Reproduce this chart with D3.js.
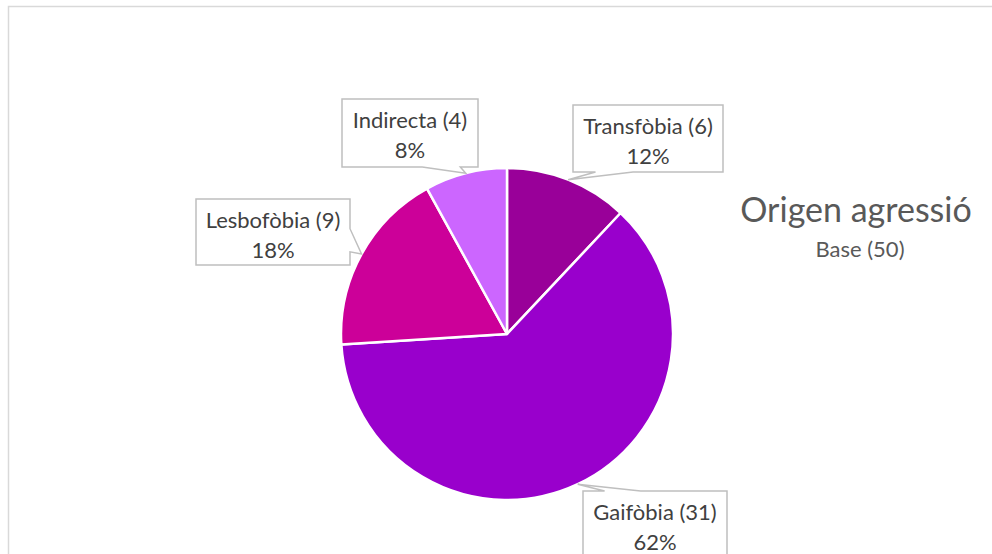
<!DOCTYPE html>
<html>
<head>
<meta charset="utf-8">
<script src="https://cdn.jsdelivr.net/npm/d3@7"></script>
<style>
  body { margin: 0; background: #fff; }
  svg { display: block; font-family: Lato, "Liberation Sans", sans-serif; }
</style>
</head>
<body>
<svg id="chart" width="992" height="554"></svg>
<script>
// data
var categories = ["Transfòbia", "Gaifòbia", "Lesbofòbia", "Indirecta"];
var counts = [6, 31, 9, 4];
var colors = ["#990099", "#9900CC", "#CC0099", "#CC66FF"];
var title = "Origen agressió";
var subtitle = "Base (50)";

var total = d3.sum(counts);
var cx = 507, cy = 334, r = 166;

var svg = d3.select("#chart");

// outer chart frame (runs off the right/bottom edge)
svg.append("rect")
    .attr("x", 8.5).attr("y", 6.5)
    .attr("width", 1100).attr("height", 700)
    .attr("fill", "none").attr("stroke", "#d9d9d9").attr("stroke-width", 1.5);

var pie = d3.pie().sort(null).value(function(d) { return d; });
var arcs = pie(counts);
var arc = d3.arc().innerRadius(0).outerRadius(r);
var edge = d3.arc().innerRadius(r).outerRadius(r); // centroid = point on rim

var g = svg.append("g").attr("transform", "translate(" + cx + "," + cy + ")");

g.selectAll("path.slice")
    .data(arcs)
  .enter().append("path")
    .attr("class", "slice")
    .attr("d", arc)
    .attr("fill", function(d, i) { return colors[i]; })
    .attr("stroke", "#fff")
    .attr("stroke-width", 2.5)
    .attr("stroke-linejoin", "round");

// callout boxes: where each box sits + which side the tail leaves from
var boxes = [
  { x: 573, y: 105, w: 150, h: 67, side: "bottom", a: 0.15, b: 0.40 },
  { x: 583, y: 491, w: 144, h: 67, side: "top",    a: 0.15, b: 0.40 },
  { x: 196, y: 199, w: 154, h: 66, side: "right",  a: 0.45, b: 0.80 },
  { x: 342, y: 99,  w: 136, h: 68, side: "bottom", a: 0.59, b: 0.87 }
];

function callout(bx, tip) {
  var x0 = bx.x, y0 = bx.y, x1 = bx.x + bx.w, y1 = bx.y + bx.h;
  var p = d3.path();
  p.moveTo(x0, y0);
  if (bx.side === "top") {
    p.lineTo(x0 + bx.w * bx.a, y0);
    p.lineTo(tip[0], tip[1]);
    p.lineTo(x0 + bx.w * bx.b, y0);
  }
  p.lineTo(x1, y0);
  if (bx.side === "right") {
    p.lineTo(x1, y0 + bx.h * bx.a);
    p.lineTo(tip[0], tip[1]);
    p.lineTo(x1, y0 + bx.h * bx.b);
  }
  p.lineTo(x1, y1);
  if (bx.side === "bottom") {
    p.lineTo(x0 + bx.w * bx.b, y1);
    p.lineTo(tip[0], tip[1]);
    p.lineTo(x0 + bx.w * bx.a, y1);
  }
  p.lineTo(x0, y1);
  p.closePath();
  return p.toString();
}

var labels = svg.selectAll("g.label")
    .data(arcs)
  .enter().append("g")
    .attr("class", "label");

labels.append("path")
    .attr("d", function(d, i) {
      var c = edge.centroid(d);
      return callout(boxes[i], [cx + c[0], cy + c[1]]);
    })
    .attr("fill", "#fff")
    .attr("stroke", "#bfbfbf")
    .attr("stroke-width", 1.5);

labels.append("text")
    .attr("x", function(d, i) { return boxes[i].x + boxes[i].w / 2; })
    .attr("y", function(d, i) { return boxes[i].y + 29; })
    .attr("text-anchor", "middle")
    .attr("font-size", 22)
    .attr("fill", "#404040")
    .text(function(d, i) { return categories[i] + " (" + counts[i] + ")"; });

labels.append("text")
    .attr("x", function(d, i) { return boxes[i].x + boxes[i].w / 2; })
    .attr("y", function(d, i) { return boxes[i].y + 59; })
    .attr("text-anchor", "middle")
    .attr("font-size", 22)
    .attr("fill", "#404040")
    .text(function(d) { return Math.round(d.value / total * 100) + "%"; });

svg.append("text")
    .attr("x", 856).attr("y", 222)
    .attr("text-anchor", "middle")
    .attr("font-size", 34)
    .attr("fill", "#595959")
    .text(title);

svg.append("text")
    .attr("x", 860).attr("y", 257)
    .attr("text-anchor", "middle")
    .attr("font-size", 22)
    .attr("fill", "#595959")
    .text(subtitle);
</script>
</body>
</html>
